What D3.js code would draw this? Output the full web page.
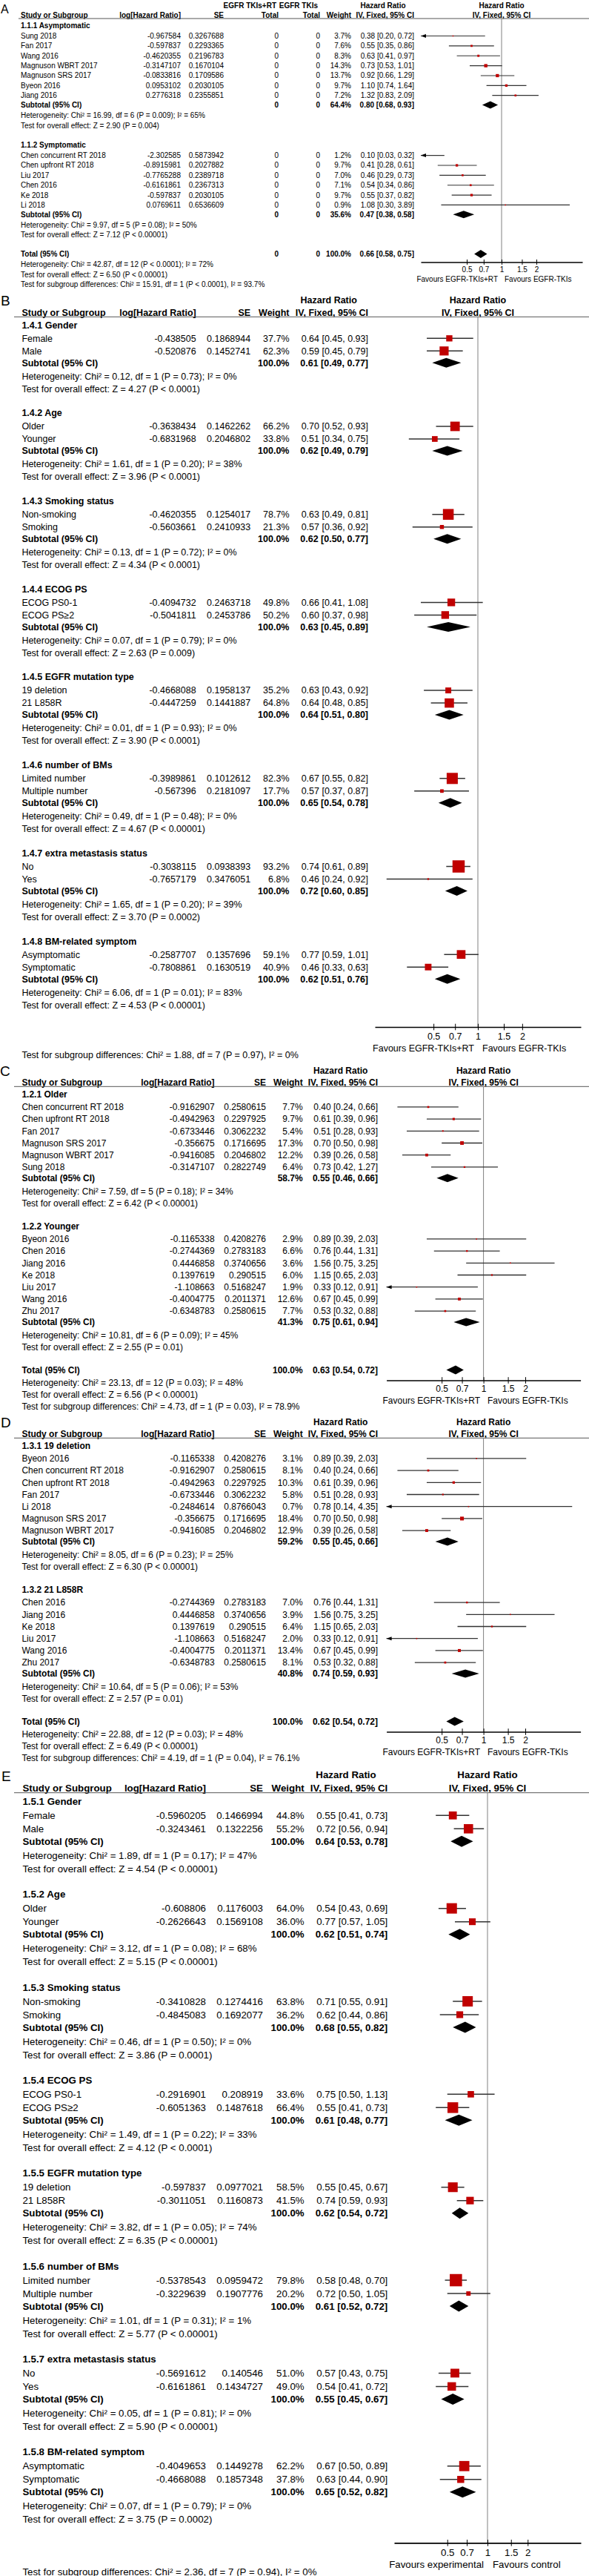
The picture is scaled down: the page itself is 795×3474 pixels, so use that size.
<!DOCTYPE html>
<html><head><meta charset="utf-8">
<script src="https://cdn.jsdelivr.net/npm/d3@7"></script>
<style>
body{margin:0;background:#fff}
svg{display:block}
text{font-family:"Liberation Sans",Arial,sans-serif;fill:#000}
</style>
</head><body>
<svg id="chart" width="795" height="3474"></svg>
<script>
// ---------- shared ----------
const axisTicks = [0.5, 0.7, 1, 1.5, 2];
const axisDomain = [0.2, 5];

// ---------- Panel A ----------
const A_groups = ["1.1.1 Asymptomatic", "1.1.2 Symptomatic"];
const A_names = ["Sung 2018","Fan 2017","Wang 2016","Magnuson WBRT 2017","Magnuson SRS 2017","Byeon 2016","Jiang 2016",
  "Chen concurrent RT 2018","Chen upfront RT 2018","Liu 2017","Chen 2016","Ke 2018","Li 2018"];
const A_grp = [0,0,0,0,0,0,0,1,1,1,1,1,1];
const A_logHR = [-0.967584,-0.597837,-0.4620355,-0.3147107,-0.0833816,0.0953102,0.2776318,
  -2.302585,-0.8915981,-0.7765288,-0.6161861,-0.597837,0.0769611];
const A_se = [0.3267688,0.2293365,0.2196783,0.1670104,0.1709586,0.2030105,0.2355851,
  0.5873942,0.2027882,0.2389718,0.2367313,0.2030105,0.6536609];
const A_nExp = [0,0,0,0,0,0,0,0,0,0,0,0,0];
const A_nCtl = [0,0,0,0,0,0,0,0,0,0,0,0,0];
const A_weight = [3.7,7.6,8.3,14.3,13.7,9.7,7.2,1.2,9.7,7.0,7.1,9.7,0.9];
const A_hr = [0.38,0.55,0.63,0.73,0.92,1.10,1.32,0.10,0.41,0.46,0.54,0.55,1.08];
const A_lo = [0.20,0.35,0.41,0.53,0.66,0.74,0.83,0.03,0.28,0.29,0.34,0.37,0.30];
const A_hi = [0.72,0.86,0.97,1.01,1.29,1.64,2.09,0.32,0.61,0.73,0.86,0.82,3.89];
const A_subWeight = [64.4, 35.6];
const A_subHR = [0.80, 0.47];
const A_subLo = [0.68, 0.38];
const A_subHi = [0.93, 0.58];
const A_het = ["Chi² = 16.99, df = 6 (P = 0.009); I² = 65%", "Chi² = 9.97, df = 5 (P = 0.08); I² = 50%"];
const A_z = ["Z = 2.90 (P = 0.004)", "Z = 7.12 (P < 0.00001)"];
const A_total = [100.0, 0.66, 0.58, 0.75];
const A_totalHet = "Chi² = 42.87, df = 12 (P < 0.0001); I² = 72%";
const A_totalZ = "Z = 6.50 (P < 0.00001)";
const A_diff = "Chi² = 15.91, df = 1 (P < 0.0001), I² = 93.7%";
const A_favours = ["Favours EGFR-TKIs+RT", "Favours EGFR-TKIs"];

// ---------- Panel B ----------
const B_groups = ["1.4.1 Gender","1.4.2 Age","1.4.3 Smoking status","1.4.4 ECOG PS","1.4.5 EGFR mutation type",
  "1.4.6 number of BMs","1.4.7 extra metastasis status","1.4.8 BM-related symptom"];
const B_names = ["Female","Male","Older","Younger","Non-smoking","Smoking","ECOG PS0-1","ECOG PS≥2",
  "19 deletion","21 L858R","Limited number","Multiple number","No","Yes","Asymptomatic","Symptomatic"];
const B_grp = [0,0,1,1,2,2,3,3,4,4,5,5,6,6,7,7];
const B_logHR = [-0.438505,-0.520876,-0.3638434,-0.6831968,-0.4620355,-0.5603661,-0.4094732,-0.5041811,
  -0.4668088,-0.4447259,-0.3989861,-0.567396,-0.3038115,-0.7657179,-0.2587707,-0.7808861];
const B_se = [0.1868944,0.1452741,0.1462262,0.2046802,0.1254017,0.2410933,0.2463718,0.2453786,
  0.1958137,0.1441887,0.1012612,0.2181097,0.0938393,0.3476051,0.1357696,0.1630519];
const B_weight = [37.7,62.3,66.2,33.8,78.7,21.3,49.8,50.2,35.2,64.8,82.3,17.7,93.2,6.8,59.1,40.9];
const B_hr = [0.64,0.59,0.70,0.51,0.63,0.57,0.66,0.60,0.63,0.64,0.67,0.57,0.74,0.46,0.77,0.46];
const B_lo = [0.45,0.45,0.52,0.34,0.49,0.36,0.41,0.37,0.43,0.48,0.55,0.37,0.61,0.24,0.59,0.33];
const B_hi = [0.93,0.79,0.93,0.75,0.81,0.92,1.08,0.98,0.92,0.85,0.82,0.87,0.89,0.92,1.01,0.63];
const B_subWeight = [100,100,100,100,100,100,100,100];
const B_subHR = [0.61,0.62,0.62,0.63,0.64,0.65,0.72,0.62];
const B_subLo = [0.49,0.49,0.50,0.45,0.51,0.54,0.60,0.51];
const B_subHi = [0.77,0.79,0.77,0.89,0.80,0.78,0.85,0.76];
const B_het = ["Chi² = 0.12, df = 1 (P = 0.73); I² = 0%","Chi² = 1.61, df = 1 (P = 0.20); I² = 38%",
  "Chi² = 0.13, df = 1 (P = 0.72); I² = 0%","Chi² = 0.07, df = 1 (P = 0.79); I² = 0%",
  "Chi² = 0.01, df = 1 (P = 0.93); I² = 0%","Chi² = 0.49, df = 1 (P = 0.48); I² = 0%",
  "Chi² = 1.65, df = 1 (P = 0.20); I² = 39%","Chi² = 6.06, df = 1 (P = 0.01); I² = 83%"];
const B_z = ["Z = 4.27 (P < 0.0001)","Z = 3.96 (P < 0.0001)","Z = 4.34 (P < 0.0001)","Z = 2.63 (P = 0.009)",
  "Z = 3.90 (P < 0.0001)","Z = 4.67 (P < 0.00001)","Z = 3.70 (P = 0.0002)","Z = 4.53 (P < 0.00001)"];
const B_diff = "Chi² = 1.88, df = 7 (P = 0.97), I² = 0%";
const B_favours = ["Favours EGFR-TKIs+RT", "Favours EGFR-TKIs"];

// ---------- Panel C ----------
const C_groups = ["1.2.1 Older", "1.2.2 Younger"];
const C_names = ["Chen concurrent RT 2018","Chen upfront RT 2018","Fan 2017","Magnuson SRS 2017","Magnuson WBRT 2017","Sung 2018",
  "Byeon 2016","Chen 2016","Jiang 2016","Ke 2018","Liu 2017","Wang 2016","Zhu 2017"];
const C_grp = [0,0,0,0,0,0,1,1,1,1,1,1,1];
const C_logHR = [-0.9162907,-0.4942963,-0.6733446,-0.356675,-0.9416085,-0.3147107,
  -0.1165338,-0.2744369,0.4446858,0.1397619,-1.108663,-0.4004775,-0.6348783];
const C_se = [0.2580615,0.2297925,0.3062232,0.1716695,0.2046802,0.2822749,
  0.4208276,0.2783183,0.3740656,0.290515,0.5168247,0.2011371,0.2580615];
const C_weight = [7.7,9.7,5.4,17.3,12.2,6.4,2.9,6.6,3.6,6.0,1.9,12.6,7.7];
const C_hr = [0.40,0.61,0.51,0.70,0.39,0.73,0.89,0.76,1.56,1.15,0.33,0.67,0.53];
const C_lo = [0.24,0.39,0.28,0.50,0.26,0.42,0.39,0.44,0.75,0.65,0.12,0.45,0.32];
const C_hi = [0.66,0.96,0.93,0.98,0.58,1.27,2.03,1.31,3.25,2.03,0.91,0.99,0.88];
const C_subWeight = [58.7, 41.3];
const C_subHR = [0.55, 0.75];
const C_subLo = [0.46, 0.61];
const C_subHi = [0.66, 0.94];
const C_het = ["Chi² = 7.59, df = 5 (P = 0.18); I² = 34%", "Chi² = 10.81, df = 6 (P = 0.09); I² = 45%"];
const C_z = ["Z = 6.42 (P < 0.00001)", "Z = 2.55 (P = 0.01)"];
const C_total = [100.0, 0.63, 0.54, 0.72];
const C_totalHet = "Chi² = 23.13, df = 12 (P = 0.03); I² = 48%";
const C_totalZ = "Z = 6.56 (P < 0.00001)";
const C_diff = "Chi² = 4.73, df = 1 (P = 0.03), I² = 78.9%";
const C_favours = ["Favours EGFR-TKIs+RT", "Favours EGFR-TKIs"];

// ---------- Panel D ----------
const D_groups = ["1.3.1 19 deletion", "1.3.2 21 L858R"];
const D_names = ["Byeon 2016","Chen concurrent RT 2018","Chen upfront RT 2018","Fan 2017","Li 2018","Magnuson SRS 2017","Magnuson WBRT 2017",
  "Chen 2016","Jiang 2016","Ke 2018","Liu 2017","Wang 2016","Zhu 2017"];
const D_grp = [0,0,0,0,0,0,0,1,1,1,1,1,1];
const D_logHR = [-0.1165338,-0.9162907,-0.4942963,-0.6733446,-0.2484614,-0.356675,-0.9416085,
  -0.2744369,0.4446858,0.1397619,-1.108663,-0.4004775,-0.6348783];
const D_se = [0.4208276,0.2580615,0.2297925,0.3062232,0.8766043,0.1716695,0.2046802,
  0.2783183,0.3740656,0.290515,0.5168247,0.2011371,0.2580615];
const D_weight = [3.1,8.1,10.3,5.8,0.7,18.4,12.9,7.0,3.9,6.4,2.0,13.4,8.1];
const D_hr = [0.89,0.40,0.61,0.51,0.78,0.70,0.39,0.76,1.56,1.15,0.33,0.67,0.53];
const D_lo = [0.39,0.24,0.39,0.28,0.14,0.50,0.26,0.44,0.75,0.65,0.12,0.45,0.32];
const D_hi = [2.03,0.66,0.96,0.93,4.35,0.98,0.58,1.31,3.25,2.03,0.91,0.99,0.88];
const D_subWeight = [59.2, 40.8];
const D_subHR = [0.55, 0.74];
const D_subLo = [0.45, 0.59];
const D_subHi = [0.66, 0.93];
const D_het = ["Chi² = 8.05, df = 6 (P = 0.23); I² = 25%", "Chi² = 10.64, df = 5 (P = 0.06); I² = 53%"];
const D_z = ["Z = 6.30 (P < 0.00001)", "Z = 2.57 (P = 0.01)"];
const D_total = [100.0, 0.62, 0.54, 0.72];
const D_totalHet = "Chi² = 22.88, df = 12 (P = 0.03); I² = 48%";
const D_totalZ = "Z = 6.49 (P < 0.00001)";
const D_diff = "Chi² = 4.19, df = 1 (P = 0.04), I² = 76.1%";
const D_favours = ["Favours EGFR-TKIs+RT", "Favours EGFR-TKIs"];

// ---------- Panel E ----------
const E_groups = ["1.5.1 Gender","1.5.2 Age","1.5.3 Smoking status","1.5.4 ECOG PS","1.5.5 EGFR mutation type",
  "1.5.6 number of BMs","1.5.7 extra metastasis status","1.5.8 BM-related symptom"];
const E_names = ["Female","Male","Older","Younger","Non-smoking","Smoking","ECOG PS0-1","ECOG PS≥2",
  "19 deletion","21 L858R","Limited number","Multiple number","No","Yes","Asymptomatic","Symptomatic"];
const E_grp = [0,0,1,1,2,2,3,3,4,4,5,5,6,6,7,7];
const E_logHR = [-0.5960205,-0.3243461,-0.608806,-0.2626643,-0.3410828,-0.4845083,-0.2916901,-0.6051363,
  -0.597837,-0.3011051,-0.5378543,-0.3229639,-0.5691612,-0.6161861,-0.4049653,-0.4668088];
const E_se = [0.1466994,0.1322256,0.1176003,0.1569108,0.1274416,0.1692077,0.208919,0.1487618,
  0.0977021,0.1160873,0.0959472,0.1907776,0.140546,0.1434727,0.1449278,0.1857348];
const E_weight = [44.8,55.2,64.0,36.0,63.8,36.2,33.6,66.4,58.5,41.5,79.8,20.2,51.0,49.0,62.2,37.8];
const E_hr = [0.55,0.72,0.54,0.77,0.71,0.62,0.75,0.55,0.55,0.74,0.58,0.72,0.57,0.54,0.67,0.63];
const E_lo = [0.41,0.56,0.43,0.57,0.55,0.44,0.50,0.41,0.45,0.59,0.48,0.50,0.43,0.41,0.50,0.44];
const E_hi = [0.73,0.94,0.69,1.05,0.91,0.86,1.13,0.73,0.67,0.93,0.70,1.05,0.75,0.72,0.89,0.90];
const E_subWeight = [100,100,100,100,100,100,100,100];
const E_subHR = [0.64,0.62,0.68,0.61,0.62,0.61,0.55,0.65];
const E_subLo = [0.53,0.51,0.55,0.48,0.54,0.52,0.45,0.52];
const E_subHi = [0.78,0.74,0.82,0.77,0.72,0.72,0.67,0.82];
const E_het = ["Chi² = 1.89, df = 1 (P = 0.17); I² = 47%","Chi² = 3.12, df = 1 (P = 0.08); I² = 68%",
  "Chi² = 0.46, df = 1 (P = 0.50); I² = 0%","Chi² = 1.49, df = 1 (P = 0.22); I² = 33%",
  "Chi² = 3.82, df = 1 (P = 0.05); I² = 74%","Chi² = 1.01, df = 1 (P = 0.31); I² = 1%",
  "Chi² = 0.05, df = 1 (P = 0.81); I² = 0%","Chi² = 0.07, df = 1 (P = 0.79); I² = 0%"];
const E_z = ["Z = 4.54 (P < 0.00001)","Z = 5.15 (P < 0.00001)","Z = 3.86 (P = 0.0001)","Z = 4.12 (P < 0.0001)",
  "Z = 6.35 (P < 0.00001)","Z = 5.77 (P < 0.00001)","Z = 5.90 (P < 0.00001)","Z = 3.75 (P = 0.0002)"];
const E_diff = "Chi² = 2.36, df = 7 (P = 0.94), I² = 0%";
const E_favours = ["Favours experimental", "Favours control"];

// ---------- drawing ----------
const FONT = '"Liberation Sans", Arial, sans-serif';
const svg = d3.select("#chart");
const fmtW = w => w.toFixed(1) + "%";
const fmtCI = (h, l, u) => h.toFixed(2) + " [" + l.toFixed(2) + ", " + u.toFixed(2) + "]";

function drawPanel(cfg, d) {
  const g = svg.append("g");
  const x = d3.scaleLog().domain(axisDomain).range(cfg.plot);
  const side = d3.scalePow().exponent(0.75).domain([0, 100]).range([0, cfg.k * Math.pow(100, 0.75)]);
  const txt = (xx, yy, s, o = {}) => g.append("text")
    .attr("x", xx).attr("y", yy).attr("dy", "0.35em")
    .attr("font-size", o.size || cfg.fs)
    .attr("font-weight", o.bold ? "bold" : "normal")
    .attr("text-anchor", o.anchor || "start")
    .text(s);
  const c = cfg.cols;

  // panel letter
  txt(cfg.labelX, cfg.labelY, cfg.label, {size: cfg.labelSize});

  // header
  const h1 = cfg.title0 + cfg.hdr1, h2 = cfg.title0 + cfg.hdr2, ul = cfg.title0 + cfg.uline;
  if (d.nExp) {
    txt(c.n1 - 3, h1, "EGFR TKIs+RT", {bold: true, anchor: "end"});
    txt(c.n2 - 3, h1, "EGFR TKIs", {bold: true, anchor: "end"});
  }
  txt(cfg.hr1Center, h1, "Hazard Ratio", {bold: true, anchor: "middle"});
  txt(x(1), h1, "Hazard Ratio", {bold: true, anchor: "middle"});
  txt(cfg.xName, h2, "Study or Subgroup", {bold: true});
  txt(c.log, h2, "log[Hazard Ratio]", {bold: true, anchor: "end"});
  txt(c.se, h2, "SE", {bold: true, anchor: "end"});
  if (d.nExp) {
    txt(c.n1, h2, "Total", {bold: true, anchor: "end"});
    txt(c.n2, h2, "Total", {bold: true, anchor: "end"});
  }
  txt(c.w, h2, "Weight", {bold: true, anchor: "end"});
  txt(c.hr, h2, "IV, Fixed, 95% CI", {bold: true, anchor: "end"});
  txt(x(1), h2, "IV, Fixed, 95% CI", {bold: true, anchor: "middle"});
  g.append("line").attr("x1", cfg.ulineX0).attr("x2", 795).attr("y1", ul).attr("y2", ul)
    .attr("stroke", "#555").attr("stroke-width", 1);

  // rows layout
  const rows = [];
  let y = cfg.title0;
  d.groups.forEach((title, gi) => {
    if (gi > 0) y += cfg.testTitle;
    rows.push({type: "title", y, text: title});
    const idx = d.grp.map((v, i) => v === gi ? i : -1).filter(i => i >= 0);
    idx.forEach((i, j) => { y += j === 0 ? cfg.tS : cfg.sS; rows.push({type: "study", y, i}); });
    y += cfg.sSub; rows.push({type: "sub", y, gi});
    y += cfg.subHet; rows.push({type: "het", y, text: d.het[gi]});
    y += cfg.hetTest; rows.push({type: "z", y, text: d.z[gi]});
  });
  let axisY, diffY;
  if (d.total) {
    y += cfg.testTotal; rows.push({type: "total", y});
    axisY = y + cfg.axisGap;
    y += cfg.totHet; rows.push({type: "het", y, text: d.totalHet});
    y += cfg.hetTest2; rows.push({type: "z", y, text: d.totalZ});
    diffY = y + cfg.testDiff;
  } else {
    axisY = y + cfg.axisGap;
    diffY = axisY + cfg.diffGap;
  }

  // vertical line of no effect
  g.append("line").attr("x1", x(1)).attr("x2", x(1)).attr("y1", ul).attr("y2", axisY)
    .attr("stroke", "#808080").attr("stroke-width", 1);

  const diamond = (yy, h, l, u, dh) => g.append("path")
    .attr("d", `M${x(l)},${yy}L${x(h)},${yy - dh / 2}L${x(u)},${yy}L${x(h)},${yy + dh / 2}Z`)
    .attr("fill", "#000");

  const [dmin, dmax] = axisDomain;
  rows.forEach(r => {
    if (r.type === "title") txt(cfg.xName, r.y, r.text, {bold: true});
    else if (r.type === "het") txt(cfg.xName, r.y, "Heterogeneity: " + r.text);
    else if (r.type === "z") txt(cfg.xName, r.y, "Test for overall effect: " + r.text);
    else if (r.type === "study") {
      const i = r.i;
      txt(cfg.xName, r.y, d.names[i]);
      txt(c.log, r.y, String(d.logHR[i]), {anchor: "end"});
      txt(c.se, r.y, String(d.se[i]), {anchor: "end"});
      if (d.nExp) {
        txt(c.n1, r.y, String(d.nExp[i]), {anchor: "end"});
        txt(c.n2, r.y, String(d.nCtl[i]), {anchor: "end"});
      }
      txt(c.w, r.y, fmtW(d.weight[i]), {anchor: "end"});
      txt(c.hr, r.y, fmtCI(d.hr[i], d.lo[i], d.hi[i]), {anchor: "end"});
      const l = Math.max(d.lo[i], dmin), u = Math.min(d.hi[i], dmax);
      g.append("line").attr("x1", x(l)).attr("x2", x(u)).attr("y1", r.y).attr("y2", r.y)
        .attr("stroke", "#333").attr("stroke-width", cfg.ciW);
      if (d.lo[i] <= dmin) {
        const x0 = x(dmin);
        g.append("path").attr("d", `M${x0},${r.y}L${x0 + 7},${r.y - 2.5}L${x0 + 7},${r.y + 2.5}Z`).attr("fill", "#000");
      }
      if (d.hr[i] > dmin && d.hr[i] < dmax) {
        const s = Math.max(side(d.weight[i]), 1.6);
        g.append("rect").attr("x", x(d.hr[i]) - s / 2).attr("y", r.y - s / 2)
          .attr("width", s).attr("height", s).attr("fill", "#c00000");
      }
    } else if (r.type === "sub") {
      const gi = r.gi;
      txt(cfg.xName, r.y, "Subtotal (95% CI)", {bold: true});
      if (d.nExp) {
        txt(c.n1, r.y, "0", {bold: true, anchor: "end"});
        txt(c.n2, r.y, "0", {bold: true, anchor: "end"});
      }
      txt(c.w, r.y, fmtW(d.subWeight[gi]), {bold: true, anchor: "end"});
      txt(c.hr, r.y, fmtCI(d.subHR[gi], d.subLo[gi], d.subHi[gi]), {bold: true, anchor: "end"});
      diamond(r.y, d.subHR[gi], d.subLo[gi], d.subHi[gi], cfg.dH);
    } else if (r.type === "total") {
      const t = d.total;
      txt(cfg.xName, r.y, "Total (95% CI)", {bold: true});
      if (d.nExp) {
        txt(c.n1, r.y, "0", {bold: true, anchor: "end"});
        txt(c.n2, r.y, "0", {bold: true, anchor: "end"});
      }
      txt(c.w, r.y, fmtW(t[0]), {bold: true, anchor: "end"});
      txt(c.hr, r.y, fmtCI(t[1], t[2], t[3]), {bold: true, anchor: "end"});
      diamond(r.y, t[1], t[2], t[3], cfg.totalDH);
    }
  });

  // axis
  const axis = d3.axisBottom(x).tickValues(axisTicks).tickFormat(v => String(v))
    .tickSizeInner(cfg.tickLen).tickSizeOuter(0);
  const ag = g.append("g").attr("transform", `translate(0,${axisY})`).call(axis)
    .attr("font-family", FONT).attr("font-size", cfg.fs);
  ag.select(".domain").attr("stroke", "#000").attr("stroke-width", 1.6);
  ag.selectAll(".tick line").attr("y1", -cfg.tickLen).attr("y2", cfg.tickLen).attr("stroke", "#000");
  ag.selectAll(".tick text").attr("y", cfg.tickLbl).attr("dy", "0.35em");

  txt(x(1) - cfg.favGapL, axisY + cfg.fav, d.favours[0], {anchor: "end"});
  txt(x(1) + cfg.favGapR, axisY + cfg.fav, d.favours[1]);
  txt(cfg.xName, diffY, "Test for subgroup differences: " + d.diff);
}

// ---------- panels ----------
drawPanel({
  label: "A", labelX: 1, labelY: 12, labelSize: 16, fs: 10,
  title0: 34, hdr1: -27, hdr2: -13.3, uline: -9, ulineX0: 25,
  tS: 14.5, sS: 13.37, sSub: 12.8, subHet: 14.2, hetTest: 13.4, testTitle: 26,
  testTotal: 25.6, axisGap: 11, totHet: 14.4, hetTest2: 13.4, testDiff: 13.3,
  tickLbl: 9.6, fav: 22.7, favGapL: 5, favGapR: 4, tickLen: 3.5,
  xName: 28, cols: {log: 244, se: 302, n1: 376, n2: 432, w: 474, hr: 559}, hr1Center: 517,
  plot: [568, 786], k: 0.6, dH: 10, totalDH: 11, ciW: 1.2
}, {groups: A_groups, names: A_names, grp: A_grp, logHR: A_logHR, se: A_se, nExp: A_nExp, nCtl: A_nCtl,
  weight: A_weight, hr: A_hr, lo: A_lo, hi: A_hi, subWeight: A_subWeight, subHR: A_subHR, subLo: A_subLo,
  subHi: A_subHi, het: A_het, z: A_z, total: A_total, totalHet: A_totalHet, totalZ: A_totalZ,
  diff: A_diff, favours: A_favours});

drawPanel({
  label: "B", labelX: 1, labelY: 405, labelSize: 19, fs: 12.5,
  title0: 438.3, hdr1: -33.3, hdr2: -16.6, uline: -11, ulineX0: 19,
  tS: 18, sS: 17, sSub: 16, subHet: 18, hetTest: 17, testTitle: 32.7,
  axisGap: 29.8, diffGap: 37.3,
  tickLbl: 12.3, fav: 28.3, favGapL: 5, favGapR: 6, tickLen: 4.3,
  xName: 29.4, cols: {log: 264.7, se: 338.2, w: 390.5, hr: 497}, hr1Center: 443.7,
  plot: [506, 784], k: 0.55, dH: 13, ciW: 1.5
}, {groups: B_groups, names: B_names, grp: B_grp, logHR: B_logHR, se: B_se,
  weight: B_weight, hr: B_hr, lo: B_lo, hi: B_hi, subWeight: B_subWeight, subHR: B_subHR, subLo: B_subLo,
  subHi: B_subHi, het: B_het, z: B_z, diff: B_diff, favours: B_favours});

drawPanel({
  label: "C", labelX: 0, labelY: 1444, labelSize: 19, fs: 12,
  title0: 1476, hdr1: -32.7, hdr2: -16, uline: -10.7, ulineX0: 19,
  tS: 16.9, sS: 16.2, sSub: 14.8, subHet: 18, hetTest: 16, testTitle: 31.3,
  testTotal: 30.6, axisGap: 14, totHet: 17.7, hetTest2: 16, testDiff: 15.7,
  tickLbl: 11.4, fav: 27, favGapL: 4.6, favGapR: 5.4, tickLen: 4.3,
  xName: 29.4, cols: {log: 289.6, se: 359, w: 408.7, hr: 510}, hr1Center: 459.7,
  plot: [521.6, 783.6], k: 0.57, dH: 11, totalDH: 12, ciW: 1.3
}, {groups: C_groups, names: C_names, grp: C_grp, logHR: C_logHR, se: C_se,
  weight: C_weight, hr: C_hr, lo: C_lo, hi: C_hi, subWeight: C_subWeight, subHR: C_subHR, subLo: C_subLo,
  subHi: C_subHi, het: C_het, z: C_z, total: C_total, totalHet: C_totalHet, totalZ: C_totalZ,
  diff: C_diff, favours: C_favours});

drawPanel({
  label: "D", labelX: 1, labelY: 1918, labelSize: 19, fs: 12,
  title0: 1950, hdr1: -32.3, hdr2: -16.7, uline: -10.7, ulineX0: 19,
  tS: 16.9, sS: 16.2, sSub: 14.8, subHet: 18, hetTest: 16, testTitle: 31.3,
  testTotal: 30.6, axisGap: 14, totHet: 17.7, hetTest2: 16, testDiff: 15.7,
  tickLbl: 11.4, fav: 27, favGapL: 4.6, favGapR: 5.4, tickLen: 4.3,
  xName: 29.4, cols: {log: 289.6, se: 359, w: 408.7, hr: 510}, hr1Center: 459.7,
  plot: [521.6, 783.6], k: 0.57, dH: 11, totalDH: 12, ciW: 1.3
}, {groups: D_groups, names: D_names, grp: D_grp, logHR: D_logHR, se: D_se,
  weight: D_weight, hr: D_hr, lo: D_lo, hi: D_hi, subWeight: D_subWeight, subHR: D_subHR, subLo: D_subLo,
  subHi: D_subHi, het: D_het, z: D_z, total: D_total, totalHet: D_totalHet, totalZ: D_totalZ,
  diff: D_diff, favours: D_favours});

drawPanel({
  label: "E", labelX: 2, labelY: 2395, labelSize: 19, fs: 13.3,
  title0: 2429.3, hdr1: -36, hdr2: -18.3, uline: -11.6, ulineX0: 19,
  tS: 19, sS: 18, sSub: 17, subHet: 19, hetTest: 18, testTitle: 34.35,
  axisGap: 31.6, diffGap: 39,
  tickLbl: 13, fav: 29, favGapL: 5, favGapR: 7, tickLen: 4.3,
  xName: 30.4, cols: {log: 278, se: 355, w: 410.7, hr: 523.3}, hr1Center: 467,
  plot: [532, 784], k: 0.62, dH: 15, ciW: 1.5
}, {groups: E_groups, names: E_names, grp: E_grp, logHR: E_logHR, se: E_se,
  weight: E_weight, hr: E_hr, lo: E_lo, hi: E_hi, subWeight: E_subWeight, subHR: E_subHR, subLo: E_subLo,
  subHi: E_subHi, het: E_het, z: E_z, diff: E_diff, favours: E_favours});
</script>
</body></html>
